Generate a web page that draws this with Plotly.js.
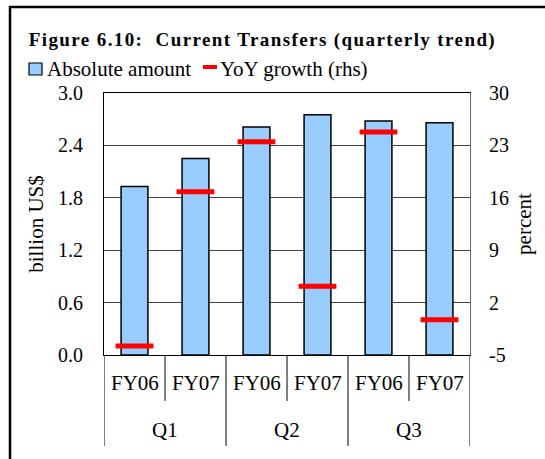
<!DOCTYPE html>
<html>
<head>
<meta charset="utf-8">
<script src="https://cdn.plot.ly/plotly-3.0.1.min.js"></script>
<style>
html,body{margin:0;padding:0;background:#fff;}
#chart{width:545px;height:459px;}
g.annotation[data-index="9"] text{letter-spacing:1.4px;}
</style>
</head>
<body>
<div id="chart"></div>
<script>
const quarters = ['Q1', 'Q1', 'Q2', 'Q2', 'Q3', 'Q3'];
const years = ['FY06', 'FY07', 'FY06', 'FY07', 'FY06', 'FY07'];
const amount = [1.93, 2.25, 2.61, 2.75, 2.68, 2.66];      // billion US$
const yoyGrowth = [-3.8, 16.8, 23.5, 4.2, 24.8, -0.3];    // percent (rhs)
const quarterGroups = ['Q1', 'Q2', 'Q3'];
const seriesNames = ['Absolute amount', 'YoY growth (rhs)'];
const titleText = 'Figure 6.10:  Current Transfers (quarterly trend)';
const leftTicks = [0, 0.6, 1.2, 1.8, 2.4, 3.0];
const rightTicks = [-5, 2, 9, 16, 23, 30];

const cats = quarters.map((q, i) => q + ' ' + years[i]);
const FONT = 'Liberation Serif, Times New Roman, serif';

const W = 545, H = 459;
const M = {l: 104, r: 75, t: 93, b: 104};
const PW = W - M.l - M.r, PH = H - M.t - M.b;
const px = x => (x - M.l) / PW;           // pixel -> paper x
const py = y => (H - M.b - y) / PH;       // pixel -> paper y

const traces = [
  {
    type: 'bar', x: cats, y: amount, name: seriesNames[0], showlegend: false,
    marker: {color: '#99CCFF', line: {color: '#000', width: 1.5}},
    width: 0.44, hoverinfo: 'y'
  },
  {
    type: 'scatter', mode: 'markers', x: cats, y: yoyGrowth, yaxis: 'y2',
    name: seriesNames[1], showlegend: false,
    marker: {symbol: 'line-ew', size: 27, color: '#FF0000', line: {color: '#FF0000', width: 5}},
    hoverinfo: 'y'
  }
];

const shapes = [];
const annotations = [];

// outer frame (cut at right/bottom like the reference)
shapes.push({type: 'rect', xref: 'paper', yref: 'paper', x0: px(10), x1: px(600), y0: py(500), y1: py(7),
  line: {color: '#000', width: 2.5}, fillcolor: 'rgba(0,0,0,0)', layer: 'below'});

// category dividers
const fyBottom = py(401), qBottom = py(446);
for (let i = 0; i < cats.length - 1; i++) {
  const xb = i + 0.5;
  const isGroup = quarters[i] !== quarters[i + 1];
  shapes.push({type: 'line', xref: 'x', yref: 'paper', x0: xb, x1: xb, y0: 0, y1: isGroup ? qBottom : fyBottom,
    line: {color: '#000', width: 1}});
}
[-0.5, cats.length - 0.5].forEach(xb => shapes.push({type: 'line', xref: 'x', yref: 'paper', x0: xb, x1: xb,
  y0: 0, y1: qBottom, line: {color: '#000', width: 1}}));

// FY labels (indices 0-5)
years.forEach((y, i) => annotations.push({xref: 'x', yref: 'paper', x: i, y: py(383), text: y, showarrow: false,
  font: {family: FONT, size: 21, color: '#000'}, xanchor: 'center', yanchor: 'middle'}));
// Quarter labels (indices 6-8)
quarterGroups.forEach(q => {
  const idx = quarters.map((v, i) => v === q ? i : -1).filter(i => i >= 0);
  const mid = (idx[0] + idx[idx.length - 1]) / 2;
  annotations.push({xref: 'x', yref: 'paper', x: mid, y: py(430), text: q, showarrow: false,
    font: {family: FONT, size: 21, color: '#000'}, xanchor: 'center', yanchor: 'middle'});
});

// title (index 9)
annotations.push({xref: 'paper', yref: 'paper', x: px(262), y: py(40), text: '<b>' + titleText + '</b>', showarrow: false,
  xanchor: 'center', yanchor: 'middle', font: {family: FONT, size: 19, color: '#000'}});

// legend (manual, compact like reference)
shapes.push({type: 'rect', xref: 'paper', yref: 'paper', x0: px(29), x1: px(42), y0: py(75), y1: py(63),
  fillcolor: '#99CCFF', line: {color: '#000', width: 1.2}});
annotations.push({xref: 'paper', yref: 'paper', x: px(45), y: py(68.5), text: seriesNames[0], showarrow: false,
  xanchor: 'left', yanchor: 'middle', font: {family: FONT, size: 21, color: '#000'}});
shapes.push({type: 'line', xref: 'paper', yref: 'paper', x0: px(203), x1: px(217), y0: py(67), y1: py(67),
  line: {color: '#FF0000', width: 4}});
annotations.push({xref: 'paper', yref: 'paper', x: px(218), y: py(68.5), text: seriesNames[1], showarrow: false,
  xanchor: 'left', yanchor: 'middle', font: {family: FONT, size: 21, color: '#000'}});

const layout = {
  width: W, height: H, margin: M,
  paper_bgcolor: '#fff', plot_bgcolor: '#fff',
  font: {family: FONT, size: 20, color: '#000'},
  showlegend: false, bargap: 0.56,
  xaxis: {type: 'category', range: [-0.5, cats.length - 0.5], showticklabels: false, ticks: '',
    showgrid: false, showline: true, linecolor: '#000', linewidth: 1, mirror: true, zeroline: false, fixedrange: true},
  yaxis: {range: [0, 3.0], tickvals: leftTicks, tickformat: '.1f', ticks: '', showgrid: true, gridcolor: '#444', gridwidth: 1,
    showline: true, linecolor: '#000', linewidth: 1, zeroline: false, ticklabelstandoff: 16,
    tickfont: {family: FONT, size: 20, color: '#000'},
    title: {text: 'billion US$', font: {family: FONT, size: 21, color: '#000'}, standoff: 8}},
  yaxis2: {range: [-5, 30], tickvals: rightTicks, ticktext: rightTicks.map(String), overlaying: 'y', side: 'right',
    ticks: '', showgrid: false,
    showline: true, linecolor: '#666', linewidth: 1, zeroline: false, ticklabelstandoff: 14,
    tickfont: {family: FONT, size: 20, color: '#000'},
    title: {text: 'percent', font: {family: FONT, size: 21, color: '#000'}, standoff: 8}},
  shapes: shapes, annotations: annotations
};

Plotly.newPlot('chart', traces, layout, {displayModeBar: false, staticPlot: true});
</script>
</body>
</html>
